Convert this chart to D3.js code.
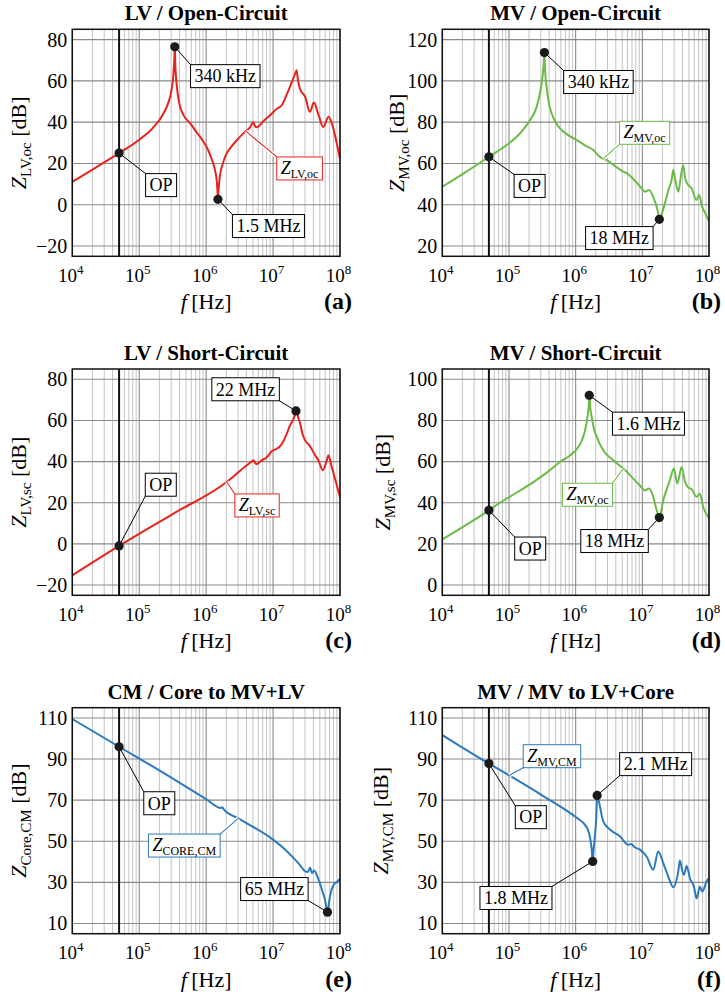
<!DOCTYPE html>
<html>
<head>
<meta charset="utf-8">
<script src="https://cdn.jsdelivr.net/npm/d3@7"></script>
<style>
  body { margin: 0; background: #fff; }
  svg { display: block; }
  text { font-family: "Liberation Serif", "Times New Roman", serif; fill: #000; }
</style>
</head>
<body>
<svg id="chart" width="725" height="998" font-family="Liberation Serif, serif"></svg>
<script>
// ---------- data: impedance magnitude [frequency in Hz, |Z| in dB] ----------
const freqTicks = [1e4, 1e5, 1e6, 1e7, 1e8];
const opFreq = 5e4;

const lvOc = [
  [1e4, 11.1], [2.24e4, 18.0], [5e4, 25.0], [1e5, 31.5], [1.58e5, 37.0], [2.24e5, 43.5],
  [2.69e5, 49.0], [3.02e5, 55.0], [3.24e5, 63.0], [3.35e5, 71.0], [3.4e5, 76.5], [3.46e5, 68.0],
  [3.63e5, 58.0], [3.98e5, 49.0], [4.57e5, 43.5], [5.75e5, 39.5], [7.24e5, 35.0], [9.12e5, 30.5],
  [1.07e6, 26.5], [1.2e6, 22.4], [1.35e6, 17.0], [1.45e6, 10.5], [1.48e6, 6.0], [1.5e6, 2.6],
  [1.53e6, 6.5], [1.58e6, 12.0], [1.81e6, 20.8], [2.0e6, 24.5], [2.28e6, 27.3], [2.82e6, 31.0],
  [3.8e6, 35.3], [4.53e6, 37.5], [5.07e6, 40.1], [5.37e6, 38.0], [5.75e6, 37.5], [7.08e6, 40.3],
  [9.02e6, 43.4], [1.15e7, 46.6], [1.35e7, 48.2], [1.58e7, 53.0], [1.91e7, 59.5], [2.14e7, 63.5],
  [2.25e7, 65.1], [2.34e7, 61.0], [2.51e7, 56.3], [3.02e7, 52.2], [3.55e7, 45.0], [4.07e7, 49.5],
  [4.79e7, 43.4], [5.62e7, 37.7], [6.76e7, 42.6], [7.94e7, 37.0], [8.91e7, 30.0], [1e8, 22.4]
];

const mvOc = [
  [1e4, 48.7], [2.24e4, 55.8], [5e4, 63.2], [9.23e4, 68.9], [1.46e5, 74.5], [2.07e5, 81.0],
  [2.6e5, 87.4], [2.95e5, 95.0], [3.16e5, 101.0], [3.31e5, 108.0], [3.4e5, 113.7], [3.47e5, 106.0],
  [3.67e5, 97.0], [3.98e5, 89.0], [4.37e5, 84.2], [5.01e5, 80.0], [5.82e5, 77.0], [7.94e5, 73.5],
  [1.04e6, 71.3], [1.38e6, 68.8], [1.84e6, 66.5], [2.31e6, 63.2], [2.92e6, 61.6], [3.98e6, 58.5],
  [5.19e6, 56.0], [5.75e6, 55.4], [7.31e6, 52.5], [8.91e6, 49.5], [1.1e7, 46.3], [1.26e7, 47.1],
  [1.45e7, 43.9], [1.64e7, 39.0], [1.74e7, 35.5], [1.8e7, 32.9], [2.0e7, 36.5], [2.18e7, 40.7],
  [2.51e7, 48.0], [2.75e7, 51.9], [2.91e7, 56.8], [3.16e7, 51.0], [3.47e7, 46.3], [3.72e7, 52.0],
  [4.1e7, 59.2], [4.37e7, 53.0], [4.71e7, 50.3], [5.5e7, 47.9], [6.46e7, 42.3], [7.13e7, 44.7],
  [7.76e7, 39.8], [8.91e7, 35.5], [1e8, 32.0]
];

const lvSc = [
  [1e4, -15.3], [5e4, -1.0], [3.16e5, 14.5], [2.03e6, 30.1], [4.04e6, 38.2], [4.79e6, 40.0],
  [5.07e6, 40.6], [5.5e6, 39.0], [5.7e6, 38.8], [6.76e6, 40.6], [8.04e6, 42.0], [9.55e6, 45.0],
  [1.14e7, 46.3], [1.26e7, 47.3], [1.51e7, 51.5], [1.79e7, 57.6], [2.09e7, 62.0], [2.2e7, 64.6],
  [2.4e7, 61.0], [2.54e7, 58.5], [2.75e7, 53.5], [3.01e7, 50.3], [3.49e7, 47.9], [4.25e7, 43.1],
  [4.75e7, 40.6], [5.53e7, 35.8], [6.35e7, 40.6], [6.71e7, 43.1], [7.53e7, 37.4], [8.71e7, 30.0],
  [1e8, 22.8]
];

const mvSc = [
  [1e4, 22.2], [5e4, 36.3], [7.33e4, 40.0], [1.04e5, 43.0], [2.32e5, 50.0], [3.98e5, 55.5],
  [5.82e5, 59.8], [8.22e5, 63.0], [1.04e6, 66.0], [1.23e6, 70.0], [1.38e6, 75.0], [1.51e6, 82.0],
  [1.58e6, 88.0], [1.6e6, 92.2], [1.66e6, 86.0], [1.74e6, 81.7], [1.88e6, 76.0], [2.07e6, 72.0],
  [2.59e6, 65.5], [3.66e6, 60.6], [5.18e6, 56.6], [7.31e6, 51.7], [9.12e6, 48.5], [1.1e7, 46.0],
  [1.27e7, 46.9], [1.46e7, 42.8], [1.66e7, 35.8], [1.8e7, 32.8], [2.06e7, 41.2], [2.59e7, 50.9],
  [2.98e7, 56.6], [3.34e7, 49.3], [3.89e7, 57.4], [4.37e7, 50.1], [4.9e7, 47.4], [5.5e7, 46.6],
  [6.52e7, 42.8], [7.31e7, 44.4], [8.2e7, 37.9], [9.77e7, 33.0], [1e8, 32.5]
];

const coreCm = [
  [1e4, 109.5], [5e4, 96.0], [2.0e5, 84.5], [1.0e6, 70.5], [1.66e6, 66.2], [1.74e6, 66.6],
  [1.82e6, 65.6], [3.16e6, 60.8], [1.0e7, 50.8], [1.51e7, 46.0], [2.0e7, 42.0], [2.51e7, 38.5],
  [3.02e7, 35.3], [3.31e7, 35.0], [3.57e7, 37.2], [3.8e7, 34.5], [4.1e7, 35.8], [4.6e7, 32.8],
  [5.01e7, 29.5], [5.35e7, 26.5], [5.98e7, 21.5], [6.5e7, 15.5], [6.84e7, 20.0], [7.11e7, 23.5],
  [7.98e7, 28.7], [8.95e7, 30.2], [1e8, 31.8]
];

const mvCm = [
  [1e4, 101.7], [5e4, 87.8], [1.04e5, 81.8], [3.27e5, 72.0], [1.04e6, 61.4], [1.3e6, 58.9],
  [1.55e6, 55.0], [1.66e6, 51.0], [1.74e6, 46.0], [1.8e6, 40.2], [1.86e6, 46.0], [1.95e6, 53.0],
  [2.04e6, 62.0], [2.1e6, 72.3], [2.21e6, 70.0], [2.31e6, 67.1], [2.59e6, 59.7], [3.27e6, 55.7],
  [4.61e6, 52.4], [6.15e6, 48.3], [6.9e6, 48.7], [7.41e6, 47.5], [9.2e6, 45.9], [1.16e7, 42.6],
  [1.46e7, 36.1], [1.73e7, 45.0], [2.06e7, 39.4], [2.45e7, 32.8], [2.91e7, 27.6], [3.46e7, 35.3],
  [3.66e7, 40.6], [3.98e7, 35.5], [4.21e7, 33.6], [4.61e7, 38.0], [5.18e7, 32.0], [5.94e7, 27.9],
  [6.52e7, 22.2], [7.31e7, 27.9], [7.93e7, 25.5], [9.2e7, 30.4], [1e8, 32.0]
];

// y tick values per panel
const ticksA = [-20, 0, 20, 40, 60, 80];
const ticksB = [20, 40, 60, 80, 100, 120];
const ticksC = [-20, 0, 20, 40, 60, 80];
const ticksD = [0, 20, 40, 60, 80, 100];
const ticksE = [10, 30, 50, 70, 90, 110];
const ticksF = [10, 30, 50, 70, 90, 110];

// ---------- styling ----------
const RED = "#e8231e", GREEN = "#6cbb47", BLUE = "#2b7abd";
const SERIF = '"Liberation Serif", "Times New Roman", serif';

const panels = [
  { tag: "(a)", title: "LV / Open-Circuit", data: lvOc, color: RED, yDomain: [-25, 85], yTicks: ticksA,
    ySub: "LV,oc", x0: 72.3, x1: 340, y0: 29.3, y1: 256.3, yLabX: 18.3,
    notes: [ { f: opFreq, text: "OP", dx: 42, dy: 32 },
             { f: 3.4e5, text: "340 kHz", dx: 50.5, dy: 29.3 },
             { f: 1.5e6, text: "1.5 MHz", dx: 50.5, dy: 26.7 } ],
    name: { f: 3.91e6, sub: "LV,oc", dx: 53.8, dy: 37.3 } },
  { tag: "(b)", title: "MV / Open-Circuit", data: mvOc, color: GREEN, yDomain: [15, 125], yTicks: ticksB,
    ySub: "MV,oc", x0: 442.3, x1: 709, y0: 29.3, y1: 256.3, yLabX: 395.8,
    notes: [ { f: opFreq, text: "OP", dx: 40.7, dy: 29.1 },
             { f: 3.4e5, text: "340 kHz", dx: 54, dy: 29.4 },
             { f: 1.8e7, text: "18 MHz", dx: -40, dy: 18.7 } ],
    name: { f: 2.59e6, sub: "MV,oc", dx: 41.4, dy: -25.8 } },
  { tag: "(c)", title: "LV / Short-Circuit", data: lvSc, color: RED, yDomain: [-25, 85], yTicks: ticksC,
    ySub: "LV,sc", x0: 72.3, x1: 340, y0: 369, y1: 595.3, yLabX: 18.3,
    notes: [ { f: opFreq, text: "OP", dx: 41.7, dy: -61.2 },
             { f: 2.2e7, text: "22 MHz", dx: -50.4, dy: -21.7 } ],
    name: { f: 2.03e6, sub: "LV,sc", dx: 30.3, dy: 23.5 } },
  { tag: "(d)", title: "MV / Short-Circuit", data: mvSc, color: GREEN, yDomain: [-5, 105], yTicks: ticksD,
    ySub: "MV,sc", x0: 442.3, x1: 709, y0: 369, y1: 595.3, yLabX: 382.5,
    notes: [ { f: opFreq, text: "OP", dx: 41.3, dy: 38.2 },
             { f: 1.6e6, text: "1.6 MHz", dx: 59.2, dy: 28.3 },
             { f: 1.8e7, text: "18 MHz", dx: -44.8, dy: 23.5 } ],
    name: { f: 5.18e6, sub: "MV,oc", dx: -35.8, dy: 26.2 } },
  { tag: "(e)", title: "CM / Core to MV+LV", data: coreCm, color: BLUE, yDomain: [5, 115], yTicks: ticksE,
    ySub: "Core,CM", x0: 72.3, x1: 340, y0: 707.7, y1: 933.7, yLabX: 18.3,
    notes: [ { f: opFreq, text: "OP", dx: 40.2, dy: 56.5 },
             { f: 6.5e7, text: "65 MHz", dx: -53.1, dy: -23.1 } ],
    name: { f: 3.03e6, sub: "CORE,CM", dx: -54.1, dy: 27.2 } },
  { tag: "(f)", title: "MV / MV to LV+Core", data: mvCm, color: BLUE, yDomain: [5, 115], yTicks: ticksF,
    ySub: "MV,CM", x0: 442.3, x1: 709, y0: 707.7, y1: 933.7, yLabX: 380,
    notes: [ { f: opFreq, text: "OP", dx: 41.9, dy: 53.6 },
             { f: 2.1e6, text: "2.1 MHz", dx: 58.5, dy: -31.3 },
             { f: 1.8e6, text: "1.8 MHz", dx: -76.7, dy: 36.6 } ],
    name: { f: 1.01e5, sub: "MV,CM", dx: 42.7, dy: -19.2 } }
];

const svg = d3.select("#chart");
const BOX_H = 23, BOX_PAD = 4;

// draws a white label box centred on (cx, cy) and returns its size
function labelBox(layer, cx, cy, fill, borderColor) {
  const t = layer.append("text")
    .attr("x", cx).attr("y", cy)
    .attr("text-anchor", "middle")
    .attr("font-family", SERIF)
    .attr("font-size", 18);
  fill(t);
  const w = t.node().getComputedTextLength() + 2 * BOX_PAD;
  layer.insert("rect", () => t.node())
    .attr("x", cx - w / 2).attr("y", cy - BOX_H / 2)
    .attr("width", w).attr("height", BOX_H)
    .attr("fill", "#fff").attr("stroke", borderColor).attr("stroke-width", 1);
  return { w, h: BOX_H };
}

function leaderEnd(cx, cy, size, dx, dy) {
  return [cx + (dx > 0 ? -size.w / 2 : size.w / 2), cy + (dy > 0 ? -size.h / 2 : size.h / 2)];
}

panels.forEach(p => {
  const x = d3.scaleLog().domain([1e4, 1e8]).range([p.x0, p.x1]);
  const y = d3.scaleLinear().domain(p.yDomain).range([p.y1, p.y0]);
  const g = svg.append("g").attr("font-family", SERIF);

  // grid: minor decade lines, decade lines, dB lines
  const minor = [];
  for (let e = 4; e < 8; e++) for (let k = 2; k <= 9; k++) minor.push(k * Math.pow(10, e));
  g.append("g").selectAll("line").data(minor).join("line")
    .attr("x1", d => x(d)).attr("x2", d => x(d)).attr("y1", p.y0).attr("y2", p.y1)
    .attr("stroke", "#c4c4c4").attr("stroke-width", 1);
  g.append("g").selectAll("line").data(freqTicks).join("line")
    .attr("x1", d => x(d)).attr("x2", d => x(d)).attr("y1", p.y0).attr("y2", p.y1)
    .attr("stroke", "#8a8a8a").attr("stroke-width", 1.1);
  g.append("g").selectAll("line").data(p.yTicks).join("line")
    .attr("x1", p.x0).attr("x2", p.x1).attr("y1", d => y(d)).attr("y2", d => y(d))
    .attr("stroke", "#8a8a8a").attr("stroke-width", 1.1);

  // operating point frequency
  g.append("line")
    .attr("x1", x(opFreq)).attr("x2", x(opFreq)).attr("y1", p.y0).attr("y2", p.y1)
    .attr("stroke", "#111").attr("stroke-width", 2);

  // impedance curve
  const line = d3.line().x(d => x(d[0])).y(d => y(d[1])).curve(d3.curveMonotoneX);
  const path = g.append("path").datum(p.data)
    .attr("d", line).attr("fill", "none")
    .attr("stroke", p.color).attr("stroke-width", 2).attr("stroke-linejoin", "round");

  // axes
  const yAxis = g.append("g").attr("transform", `translate(${p.x0},0)`)
    .call(d3.axisLeft(y).tickValues(p.yTicks).tickSize(0).tickPadding(5)
      .tickFormat(d => d < 0 ? "\u2212" + (-d) : String(d)));
  yAxis.attr("font-family", SERIF).attr("font-size", 20);
  yAxis.select(".domain").remove();
  yAxis.selectAll("text").attr("fill", "#222");

  const xAxis = g.append("g").attr("transform", `translate(0,${p.y1})`)
    .call(d3.axisBottom(x).tickValues(freqTicks).tickSize(0).tickPadding(12).tickFormat(""));
  xAxis.attr("font-family", SERIF).attr("font-size", 19);
  xAxis.select(".domain").remove();
  xAxis.selectAll("text").each(function (d) {
    const t = d3.select(this).attr("fill", "#222").attr("dx", -2);
    t.append("tspan").text("10");
    t.append("tspan").attr("dy", -8).attr("font-size", 13).text(String(Math.round(Math.log10(d))));
  });

  // titles and axis labels
  g.append("text").attr("x", (p.x0 + p.x1) / 2).attr("y", p.y0 - 9)
    .attr("text-anchor", "middle").attr("font-weight", "bold").attr("font-size", 21).text(p.title);

  const xl = g.append("text").attr("x", (p.x0 + p.x1) / 2).attr("y", p.y1 + 53)
    .attr("text-anchor", "middle").attr("font-size", 22).attr("fill", "#222");
  xl.append("tspan").attr("font-style", "italic").text("f");
  xl.append("tspan").text("\u2009[Hz]");

  g.append("text").attr("x", p.x1 + 12).attr("y", p.y1 + 53)
    .attr("text-anchor", "end").attr("font-weight", "bold").attr("font-size", 24).text(p.tag);

  const ym = (p.y0 + p.y1) / 2;
  const yl = g.append("text").attr("transform", `translate(${p.yLabX},${ym}) rotate(-90)`)
    .attr("text-anchor", "middle").attr("dy", "0.35em").attr("font-size", 22).attr("fill", "#222");
  yl.append("tspan").attr("font-style", "italic").text("Z");
  yl.append("tspan").attr("font-size", 15).attr("dy", 5).text(p.ySub);
  yl.append("tspan").attr("dy", -5).text(" [dB]");

  // curve name label with a coloured leader
  const pn = path.node();
  const total = pn.getTotalLength();
  const tx = x(p.name.f);
  let lo = 0, hi = total;
  for (let i = 0; i < 40; i++) {
    const mid = (lo + hi) / 2;
    if (pn.getPointAtLength(mid).x < tx) lo = mid; else hi = mid;
  }
  const cp = pn.getPointAtLength(lo);
  const ncx = cp.x + p.name.dx, ncy = cp.y + p.name.dy;
  const labels = g.append("g");
  const nsize = labelBox(labels, ncx, ncy, t => {
    t.attr("dy", "0.3em");
    t.append("tspan").attr("font-style", "italic").text("Z");
    t.append("tspan").attr("font-size", 12).attr("dy", 4).text(p.name.sub);
  }, p.color);
  const ne = leaderEnd(ncx, ncy, nsize, p.name.dx, p.name.dy);
  const leaders = g.insert("g", () => labels.node());
  leaders.append("line").attr("x1", cp.x).attr("y1", cp.y).attr("x2", ne[0]).attr("y2", ne[1])
    .attr("stroke", "#fff").attr("stroke-width", 4);
  leaders.append("line").attr("x1", cp.x).attr("y1", cp.y).attr("x2", ne[0]).attr("y2", ne[1])
    .attr("stroke", p.color).attr("stroke-width", 1.1);

  // marked points with value labels
  const dots = g.append("g");
  p.notes.forEach(n => {
    const pt = p.data.find(d => d[0] === n.f);
    const px = x(pt[0]), py = y(pt[1]);
    const cx = px + n.dx, cy = py + n.dy;
    const size = labelBox(labels, cx, cy, t => t.attr("dy", "0.35em").text(n.text), "#000");
    const e = leaderEnd(cx, cy, size, n.dx, n.dy);
    leaders.append("line").attr("x1", px).attr("y1", py).attr("x2", e[0]).attr("y2", e[1])
      .attr("stroke", "#000").attr("stroke-width", 1);
    dots.append("circle").attr("cx", px).attr("cy", py).attr("r", 4.6).attr("fill", "#1a1a1a");
  });

  // plot frame
  g.append("rect").attr("x", p.x0).attr("y", p.y0)
    .attr("width", p.x1 - p.x0).attr("height", p.y1 - p.y0)
    .attr("fill", "none").attr("stroke", "#111").attr("stroke-width", 1.5);
});
</script>
</body>
</html>
